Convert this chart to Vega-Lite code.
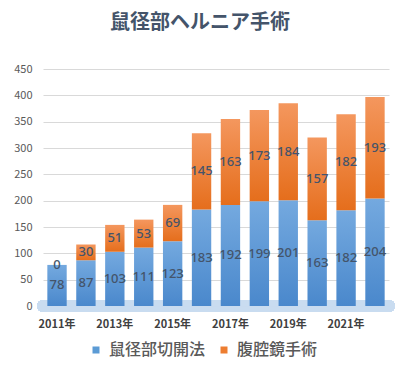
{
  "$schema": "https://vega.github.io/schema/vega-lite/v6.json",
  "width": 346,
  "height": 237,
  "autosize": {"type": "none"},
  "padding": {"left": 43, "top": 69, "right": 12, "bottom": 66},
  "background": "white",
  "title": {
    "text": "鼠径部ヘルニア手術",
    "font": "Noto Sans CJK JP",
    "fontSize": 20,
    "fontWeight": "bold",
    "color": "#44546A",
    "anchor": "middle",
    "dx": -16,
    "offset": 30
  },
  "config": {
    "view": {"stroke": null},
    "font": "Noto Sans CJK JP"
  },
  "data": {
    "values": [
      {"year": "2011年", "series": "鼠径部切開法", "v": 78},
      {"year": "2012年", "series": "鼠径部切開法", "v": 87},
      {"year": "2013年", "series": "鼠径部切開法", "v": 103},
      {"year": "2014年", "series": "鼠径部切開法", "v": 111},
      {"year": "2015年", "series": "鼠径部切開法", "v": 123},
      {"year": "2016年", "series": "鼠径部切開法", "v": 183},
      {"year": "2017年", "series": "鼠径部切開法", "v": 192},
      {"year": "2018年", "series": "鼠径部切開法", "v": 199},
      {"year": "2019年", "series": "鼠径部切開法", "v": 201},
      {"year": "2020年", "series": "鼠径部切開法", "v": 163},
      {"year": "2021年", "series": "鼠径部切開法", "v": 182},
      {"year": "2022年", "series": "鼠径部切開法", "v": 204},
      {"year": "2011年", "series": "腹腔鏡手術", "v": 0},
      {"year": "2012年", "series": "腹腔鏡手術", "v": 30},
      {"year": "2013年", "series": "腹腔鏡手術", "v": 51},
      {"year": "2014年", "series": "腹腔鏡手術", "v": 53},
      {"year": "2015年", "series": "腹腔鏡手術", "v": 69},
      {"year": "2016年", "series": "腹腔鏡手術", "v": 145},
      {"year": "2017年", "series": "腹腔鏡手術", "v": 163},
      {"year": "2018年", "series": "腹腔鏡手術", "v": 173},
      {"year": "2019年", "series": "腹腔鏡手術", "v": 184},
      {"year": "2020年", "series": "腹腔鏡手術", "v": 157},
      {"year": "2021年", "series": "腹腔鏡手術", "v": 182},
      {"year": "2022年", "series": "腹腔鏡手術", "v": 193}
    ]
  },
  "encoding": {
    "x": {
      "field": "year",
      "type": "ordinal",
      "scale": {"paddingInner": 0.33, "paddingOuter": 0.15},
      "axis": {
        "title": null,
        "values": ["2011年", "2013年", "2015年", "2017年", "2019年", "2021年"],
        "labelAngle": 0,
        "domain": false,
        "ticks": false,
        "labelPadding": 12,
        "labelFontSize": 11,
        "labelFontWeight": "bold",
        "labelColor": "#404040",
        "labelFont": "Noto Sans CJK JP"
      }
    }
  },
  "layer": [
    {
      "mark": {"type": "rule", "strokeWidth": 12, "color": "#c9dcf0", "opacity": 0.7, "strokeCap": "round"},
      "encoding": {"x": null, "y": {"datum": 0, "type": "quantitative", "scale": {"domain": [0, 450], "nice": false},
        "axis": {"title": null, "values": [0, 50, 100, 150, 200, 250, 300, 350, 400, 450], "labelOverlap": false, "domain": false, "ticks": false, "grid": true, "labelPadding": 11, "labelFontSize": 11, "labelColor": "#595959", "gridColor": "#d9d9d9", "labelFont": "Noto Sans CJK JP"}}}
    },
    {
      "mark": {"type": "bar", "opacity": 0},
      "encoding": {
        "y": {"field": "v", "type": "quantitative", "stack": "zero", "scale": {"domain": [0, 450], "nice": false},
          "axis": {"title": null, "values": [0, 50, 100, 150, 200, 250, 300, 350, 400, 450], "labelOverlap": false, "domain": false, "ticks": false, "grid": true, "labelPadding": 11, "labelFontSize": 11, "labelColor": "#595959", "gridColor": "#d9d9d9", "labelFont": "Noto Sans CJK JP"}},
        "order": {"field": "series", "sort": "descending"},
        "color": {
          "field": "series",
          "type": "nominal",
          "scale": {
            "domain": ["鼠径部切開法", "腹腔鏡手術"],
            "range": ["#5b9bd5", "#ed7d31"]
          },
          "legend": {
            "title": null,
            "orient": "none",
            "direction": "horizontal",
            "legendX": 45,
            "legendY": 273,
            "symbolType": "square",
            "symbolSize": 49,
            "symbolStrokeWidth": 0,
            "symbolOpacity": 1,
            "labelFontSize": 16,
            "labelFontWeight": 500,
            "labelColor": "#595959",
            "labelFont": "Noto Sans CJK JP",
            "labelOffset": 5,
            "columnPadding": 10,
            "padding": 0
          }
        }
      }
    },
    {
      "transform": [
        {"stack": "v", "groupby": ["year"], "as": ["y0", "y1"], "sort": [{"field": "series", "order": "descending"}]},
        {"filter": "datum.series === '鼠径部切開法'"}
      ],
      "mark": {"type": "bar", "fill": {"gradient": "linear", "x1": 0, "y1": 0, "x2": 0, "y2": 1, "stops": [{"offset": 0, "color": "#74a9df"}, {"offset": 1, "color": "#4a88cc"}]}},
      "encoding": {
        "y": {"field": "y0", "type": "quantitative", "scale": {"domain": [0, 450], "nice": false},
          "axis": {"title": null, "values": [0, 50, 100, 150, 200, 250, 300, 350, 400, 450], "labelOverlap": false, "domain": false, "ticks": false, "grid": true, "labelPadding": 11, "labelFontSize": 11, "labelColor": "#595959", "gridColor": "#d9d9d9", "labelFont": "Noto Sans CJK JP"}},
        "y2": {"field": "y1"}
      }
    },
    {
      "transform": [
        {"stack": "v", "groupby": ["year"], "as": ["y0", "y1"], "sort": [{"field": "series", "order": "descending"}]},
        {"filter": "datum.series === '腹腔鏡手術'"}
      ],
      "mark": {"type": "bar", "fill": {"gradient": "linear", "x1": 0, "y1": 0, "x2": 0, "y2": 1, "stops": [{"offset": 0, "color": "#f4975e"}, {"offset": 1, "color": "#e56e1c"}]}},
      "encoding": {
        "y": {"field": "y0", "type": "quantitative", "scale": {"domain": [0, 450], "nice": false},
          "axis": {"title": null, "values": [0, 50, 100, 150, 200, 250, 300, 350, 400, 450], "labelOverlap": false, "domain": false, "ticks": false, "grid": true, "labelPadding": 11, "labelFontSize": 11, "labelColor": "#595959", "gridColor": "#d9d9d9", "labelFont": "Noto Sans CJK JP"}},
        "y2": {"field": "y1"}
      }
    },
    {
      "mark": {"type": "text", "fontSize": 13, "color": "#44546A", "font": "Noto Sans", "fontWeight": 500, "baseline": "middle"},
      "encoding": {
        "y": {"field": "v", "type": "quantitative", "stack": "zero", "bandPosition": 0.5, "scale": {"domain": [0, 450], "nice": false},
          "axis": {"title": null, "values": [0, 50, 100, 150, 200, 250, 300, 350, 400, 450], "labelOverlap": false, "domain": false, "ticks": false, "grid": true, "labelPadding": 11, "labelFontSize": 11, "labelColor": "#595959", "gridColor": "#d9d9d9", "labelFont": "Noto Sans CJK JP"}},
        "order": {"field": "series", "sort": "descending"},
        "detail": {"field": "series"},
        "text": {"field": "v", "type": "quantitative"}
      }
    }
  ]
}
